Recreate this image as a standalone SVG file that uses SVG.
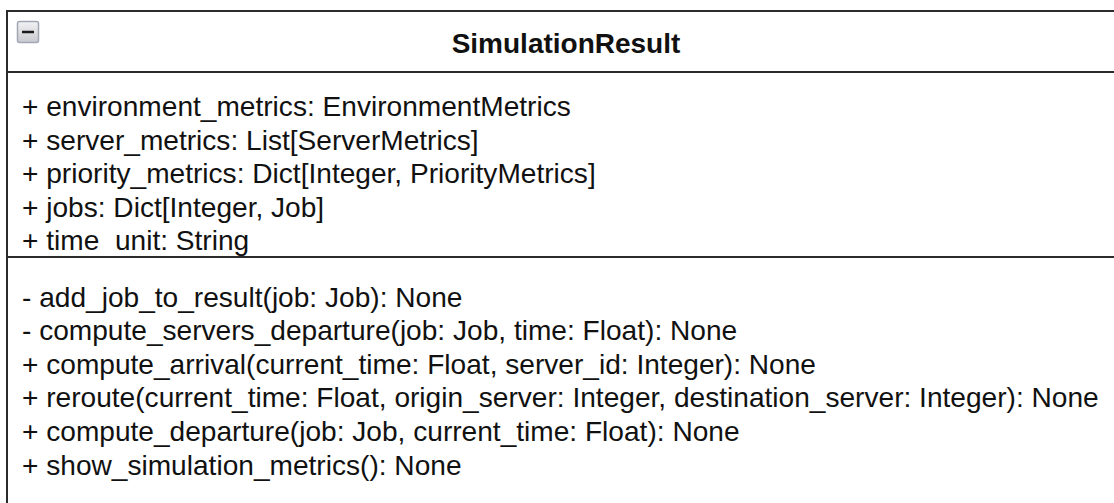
<svg xmlns="http://www.w3.org/2000/svg" width="1114" height="503" viewBox="0 0 1114 503">
  <style>
    .frame { fill: #ffffff; stroke: #2b2b2b; stroke-width: 2; }
    .rule { stroke: #2b2b2b; stroke-width: 2; }
    .title { font-family: "Liberation Sans", Arial, sans-serif; font-weight: bold; font-size: 28px; fill: #111111; }
    .member { font-family: "Liberation Sans", Arial, sans-serif; font-size: 28.1px; fill: #111111; }
  </style>
  <defs>
    <linearGradient id="btnFill" x1="0" y1="0" x2="0" y2="1">
      <stop offset="0" stop-color="#f2f2f4"/>
      <stop offset="1" stop-color="#c9cad0"/>
    </linearGradient>
  </defs>

  <rect width="1114" height="503" fill="#ffffff"/>

  <!-- class: SimulationResult (box runs past the right and bottom edges) -->
  <g id="SimulationResult">
    <rect class="frame" x="7" y="11" width="1130" height="520"/>
    <line class="rule" x1="7" y1="72" x2="1114" y2="72"/>
    <line class="rule" x1="7" y1="257" x2="1114" y2="257"/>

    <!-- collapse button -->
    <g id="collapse-button">
      <rect x="17.5" y="21.5" width="21" height="21" rx="2" fill="url(#btnFill)" stroke="#a3a7b5" stroke-width="1.5"/>
      <line x1="22" y1="32" x2="34" y2="32" stroke="#1a1a1a" stroke-width="2.5"/>
    </g>

    <text class="title" x="566" y="53" text-anchor="middle">SimulationResult</text>

    <g id="attributes">
      <text class="member" x="22" y="116">+ environment_metrics: EnvironmentMetrics</text>
      <text class="member" x="22" y="149.6">+ server_metrics: List[ServerMetrics]</text>
      <text class="member" x="22" y="183.2">+ priority_metrics: Dict[Integer, PriorityMetrics]</text>
      <text class="member" x="22" y="216.8">+ jobs: Dict[Integer, Job]</text>
      <text class="member" x="22" y="250.4">+ time&#160;&#160;unit: String</text>
    </g>

    <g id="operations">
      <text class="member" x="22" y="306.5">- add_job_to_result(job: Job): None</text>
      <text class="member" x="22" y="340.1">- compute_servers_departure(job: Job, time: Float): None</text>
      <text class="member" x="22" y="373.7">+ compute_arrival(current_time: Float, server_id: Integer): None</text>
      <text class="member" x="22" y="407.3">+ reroute(current_time: Float, origin_server: Integer, destination_server: Integer): None</text>
      <text class="member" x="22" y="440.9">+ compute_departure(job: Job, current_time: Float): None</text>
      <text class="member" x="22" y="474.5">+ show_simulation_metrics(): None</text>
    </g>
  </g>

  <!-- no connectors in this diagram -->
  <g id="connectors"/>
</svg>
